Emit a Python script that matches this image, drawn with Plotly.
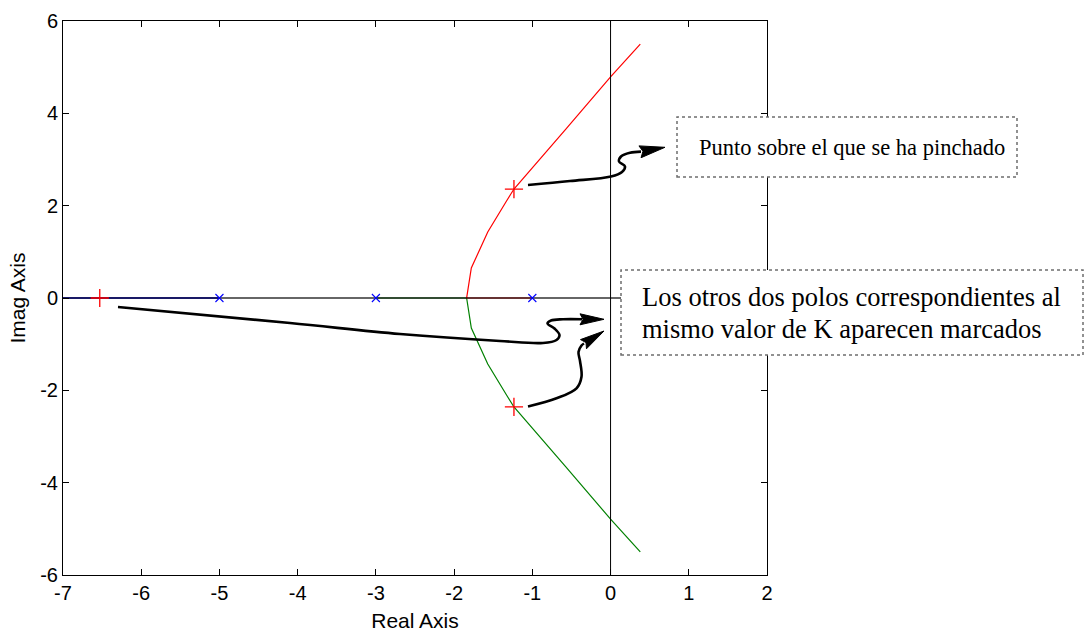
import plotly.graph_objects as go
import numpy as np

# ---------------- data ----------------
pole_x = [-5.0, -3.0, -1.0]
pole_y = [0.0, 0.0, 0.0]

blue_x = [-5.0, -6.53, -7.0]
blue_y = [0.0, 0.0, 0.0]

red_x = [-1.0, -1.84, -1.78, -1.57, -1.33, -1.235, -0.58, 0.0, 0.38]
red_y = [0.0, 0.0, 0.65, 1.43, 2.10, 2.36, 3.64, 4.79, 5.50]

green_x = [-3.0, -1.84, -1.78, -1.57, -1.33, -1.235, -0.58, 0.0, 0.38]
green_y = [0.0, 0.0, -0.65, -1.43, -2.10, -2.36, -3.64, -4.79, -5.50]

sel_x = [-6.53, -1.235, -1.235]
sel_y = [0.0, 2.36, -2.36]

x_ticks = [-7, -6, -5, -4, -3, -2, -1, 0, 1, 2]
y_ticks = [-6, -4, -2, 0, 2, 4, 6]

box1_text = "Punto sobre el que se ha pinchado"
box2_lines = ["Los otros dos polos correspondientes al",
              "mismo valor de K aparecen marcados"]

# ---------------- layout geometry ----------------
FW, FH = 1085, 632
L, R, T, B = 63, 767, 21, 575
XMIN, XMAX, YMIN, YMAX = -7, 2, -6, 6
sx = (R - L) / (XMAX - XMIN)
sy = (B - T) / (YMAX - YMIN)

def to_data(px, py):
    return (px - L) / sx + XMIN, YMAX - (py - T) / sy

def to_paper(px, py):
    return (px - L) / (R - L), (B - py) / (B - T)

# arrow decorations (pixel space): body points, tip, base centre, half width
arrows = [
    dict(body=[(528, 185), (570, 181), (611, 176.5), (622, 172), (625, 166.5),
               (619, 161.5), (621, 156.5), (630, 152.8), (641, 151.6)],
         tip=(665, 147.3), base=(640, 151.8), hw=6.0),
    dict(body=[(118, 307), (290, 323), (400, 334), (500, 341), (543, 343),
               (556.5, 340), (559.5, 335), (554.5, 328.5), (547.5, 323.5),
               (551, 320.5), (563, 319.3), (582, 319.3)],
         tip=(604, 319.3), base=(580, 319.3), hw=5.5),
    dict(body=[(528, 406.5), (556.5, 398.3), (576.5, 388.3), (581.5, 376.7),
               (580, 361), (578.5, 352), (581.5, 345.5), (584, 343.5)],
         tip=(604, 331), base=(583.5, 344.2), hw=5.5),
]

fig = go.Figure()

# locus branches
fig.add_trace(go.Scatter(x=blue_x, y=blue_y, mode="lines",
                         line=dict(color="blue", width=1.4), hoverinfo="skip"))
fig.add_trace(go.Scatter(x=green_x, y=green_y, mode="lines",
                         line=dict(color="green", width=1.2), hoverinfo="skip"))
fig.add_trace(go.Scatter(x=red_x, y=red_y, mode="lines",
                         line=dict(color="red", width=1.2), hoverinfo="skip"))

# axis lines (black) drawn over the real-axis branches
fig.add_trace(go.Scatter(x=[XMIN, XMAX], y=[0, 0], mode="lines",
                         line=dict(color="black", width=1.5), opacity=0.8,
                         hoverinfo="skip"))
fig.add_trace(go.Scatter(x=[0, 0], y=[YMIN, YMAX], mode="lines",
                         line=dict(color="black", width=1), hoverinfo="skip"))

# open-loop poles
fig.add_trace(go.Scatter(x=pole_x, y=pole_y, mode="markers",
                         marker=dict(symbol="x-thin", size=8, color="blue",
                                     line=dict(color="blue", width=1.1)),
                         hoverinfo="skip"))
# selected closed-loop poles
fig.add_trace(go.Scatter(x=sel_x, y=sel_y, mode="markers",
                         marker=dict(symbol="cross-thin", size=13, color="red",
                                     line=dict(color="red", width=1.3)),
                         hoverinfo="skip"))

# arrows
for a in arrows:
    bx, by = zip(*[to_data(*p) for p in a["body"]])
    fig.add_trace(go.Scatter(x=bx, y=by, mode="lines",
                             line=dict(color="black", width=2.6, shape="spline",
                                       smoothing=1.0),
                             hoverinfo="skip"))
    tx, ty = a["tip"]
    cx, cy = a["base"]
    dx, dy = tx - cx, ty - cy
    n = np.hypot(dx, dy)
    ux, uy = dx / n, dy / n
    px_, py_ = -uy, ux
    hw = a["hw"]
    pts = [(tx, ty),
           (cx + px_ * hw, cy + py_ * hw),
           (cx + ux * 3, cy + uy * 3),
           (cx - px_ * hw, cy - py_ * hw),
           (tx, ty)]
    hx, hy = zip(*[to_data(*p) for p in pts])
    fig.add_trace(go.Scatter(x=hx, y=hy, mode="lines", fill="toself",
                             fillcolor="black",
                             line=dict(color="black", width=1),
                             hoverinfo="skip"))

# text boxes
boxes = [((677, 117), (1017, 177)), ((621, 270), (1083, 355))]
for (x0, y0), (x1, y1) in boxes:
    p0 = to_paper(x0, y1)
    p1 = to_paper(x1, y0)
    fig.add_shape(type="rect", xref="paper", yref="paper",
                  x0=p0[0], y0=p0[1], x1=p1[0], y1=p1[1],
                  fillcolor="white", layer="above",
                  line=dict(color="#6e6e6e", width=1.5, dash="dot"))

serif = dict(family="Liberation Serif, Times New Roman, serif", size=22.5,
             color="black")
ax_, ay_ = to_paper(697, 147)
fig.add_annotation(text=box1_text, xref="paper", yref="paper", x=ax_, y=ay_,
                   xanchor="left", yanchor="middle", showarrow=False, font=serif)
for i, line in enumerate(box2_lines):
    ax_, ay_ = to_paper(640, 297 + 32 * i)
    fig.add_annotation(text=line, xref="paper", yref="paper", x=ax_, y=ay_,
                       xanchor="left", yanchor="middle", showarrow=False,
                       font=dict(serif, size=26.5))

sans = dict(family="Liberation Sans, Arial, sans-serif", size=20, color="black")
axis_common = dict(showgrid=False, zeroline=False, showline=True,
                   linecolor="black", linewidth=1, mirror="ticks",
                   ticks="inside", ticklen=6, tickcolor="black", tickwidth=1,
                   tickfont=sans, automargin=False)

fig.update_layout(
    width=FW, height=FH,
    margin=dict(l=L, r=FW - R, t=T, b=FH - B, pad=0, autoexpand=False),
    paper_bgcolor="white", plot_bgcolor="white",
    showlegend=False,
    xaxis=dict(axis_common, range=[XMIN, XMAX], tickvals=x_ticks,
               ticktext=[str(v) for v in x_ticks],
               title=dict(text="Real Axis", font=dict(sans, size=21), standoff=12)),
    yaxis=dict(axis_common, range=[YMIN, YMAX], tickvals=y_ticks,
               ticktext=[str(v) for v in y_ticks],
               title=dict(text="Imag Axis", font=dict(sans, size=21), standoff=8)),
)

fig.write_html("out.html")
